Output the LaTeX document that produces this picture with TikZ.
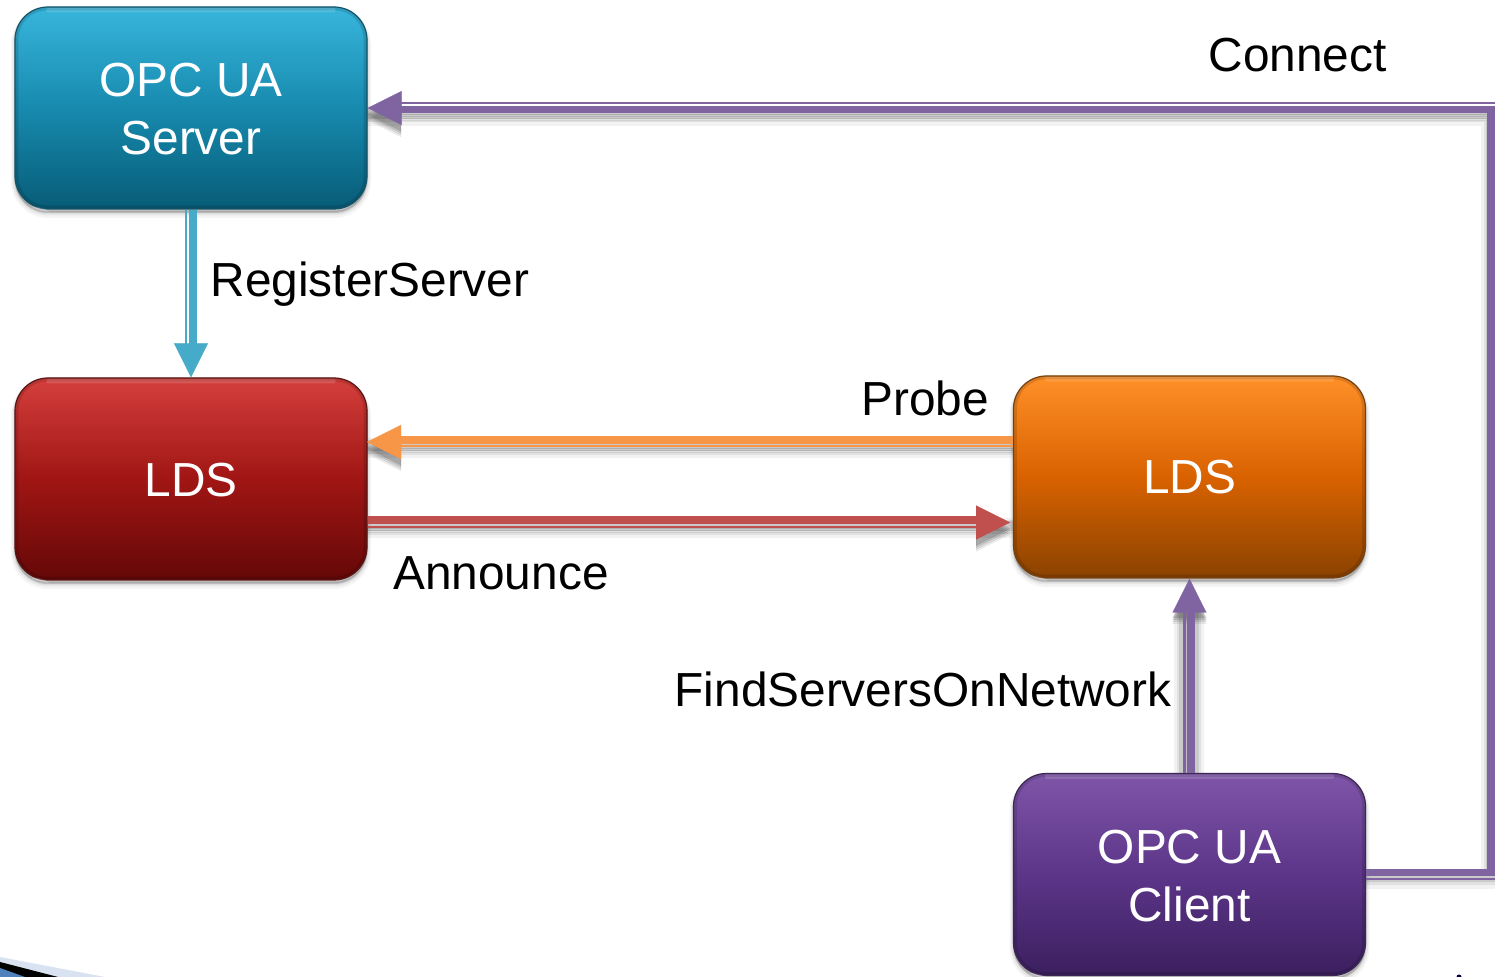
\documentclass[tikz,border=0pt]{standalone}
\usepackage{fontspec}
\setmainfont{Liberation Sans}
\usetikzlibrary{arrows.meta,calc}
\definecolor{tealc}{HTML}{46ABC8}
\definecolor{orangec}{HTML}{F79646}
\definecolor{redc}{HTML}{C0504D}
\definecolor{purplec}{HTML}{8064A2}
\definecolor{tealtop}{HTML}{38B5DC}\definecolor{tealmid}{HTML}{178AAE}\definecolor{tealbot}{HTML}{075C77}
\definecolor{redtop}{HTML}{D43F3C}\definecolor{redmid}{HTML}{A01614}\definecolor{redbot}{HTML}{640807}
\definecolor{orangetop}{HTML}{FF9028}\definecolor{orangemid}{HTML}{D96200}\definecolor{orangebot}{HTML}{8A4200}
\definecolor{purpletop}{HTML}{7F55A8}\definecolor{purplemid}{HTML}{5C3589}\definecolor{purplebot}{HTML}{3B1F5E}
\definecolor{bandlight}{HTML}{D9E2F0}\definecolor{bandblue}{HTML}{4F81BD}
\tikzset{
  x=0.5pt,y=-0.5pt,
  softshadow/.style={
    preaction={draw=black,line width=4pt,fill=black,opacity=.04,transform canvas={yshift=-2.5pt}},
    preaction={draw=black,line width=2.5pt,fill=black,opacity=.06,transform canvas={yshift=-2pt}},
    preaction={draw=black,line width=1pt,fill=black,opacity=.1,transform canvas={yshift=-1.5pt}}},
  box/.style={softshadow,rectangle,rounded corners=16.5pt,minimum width=176pt,minimum height=101pt,inner sep=0pt,
    text=white,align=center,font=\fontsize{23.9}{29}\selectfont,line width=.6pt},
  tealbox/.style={box,draw=tealbot!85!gray,top color=tealtop,bottom color=tealbot,middle color=tealmid},
  redbox/.style={box,draw=redbot!85!gray,top color=redtop,bottom color=redbot,middle color=redmid},
  orangebox/.style={box,draw=orangebot!85!gray,top color=orangetop,bottom color=orangebot,middle color=orangemid},
  purplebox/.style={box,draw=purplebot!85!gray,top color=purpletop,bottom color=purplebot,middle color=purplemid},
  lbl/.style={anchor=base,inner sep=0pt,text=black,font=\fontsize{23.9}{29}\selectfont},
  thickline/.style={line width=3.8pt,line cap=butt,line join=miter},
  thinline/.style={line width=1.2pt,line cap=butt,line join=miter},
  headline/.style={line width=.1pt,-{Triangle[length=17pt,width=17pt]}},
}
\newcommand{\dn}[2]{\raisebox{-#1}[\height][\depth]{#2}}
% soft shadow of a connector
\newcommand{\shadowof}[1]{%
  \foreach \w/\s/\o in {10pt/-3.5pt/.05,7pt/-3pt/.07,5pt/-2.5pt/.1}{%
    \draw[black,opacity=\o,line width=\w,line cap=butt,line join=miter,transform canvas={yshift=\s}] #1;}%
}
\newcommand{\headshadow}[2]{%
  \foreach \s/\o in {-6pt/.07,-5pt/.09,-4pt/.11,-3pt/.13}{%
    \draw[black,opacity=\o,headline,transform canvas={yshift=\s}] #1 -- #2;}%
}
% bevel of a box: darker rim, lighter top strip, two glints
\newcommand{\bevel}[1]{%
  \draw[black,opacity=.13,line width=2pt,rounded corners=15.5pt]
    ($(#1.north west)+(2,2)$) rectangle ($(#1.south east)+(-2,-2)$);
  \fill[white,opacity=.14,rounded corners=1pt] ($(#1.north west)+(32,1.5)$) rectangle ($(#1.north east)+(-32,6)$);
  \fill[white,opacity=.35,rotate around={-15:($(#1.north east)+(-24,6)$)}] ($(#1.north east)+(-24,6)$) ellipse (4.5pt and .7pt);
  \fill[white,opacity=.22,rotate around={-15:($(#1.south west)+(25,-7)$)}] ($(#1.south west)+(25,-7)$) ellipse (4.5pt and .7pt);
}
\begin{document}
\begin{tikzpicture}
\useasboundingbox (0,0) rectangle (1495,977);
\clip (0,0) rectangle (1495,977);
% corner remains of the slide ornament
\fill[bandlight] (0,957) -- (105,977) -- (0,977) -- cycle;
\fill[black] (0,962) -- (58,977) -- (0,977) -- cycle;
\fill[bandblue] (0,968) -- (25,977) -- (0,977) -- cycle;
\fill[blue!30!black] (1456.5,977) arc (180:0:1.25pt) -- cycle;

\coordinate (cornertop) at (1491,109.5);
\coordinate (cornerthin) at (1495,103);
\coordinate (servertip) at (367,108);
\coordinate (anntip) at (1010,522.5);
\coordinate (probetip) at (367,442);

% shadows of connectors, behind the boxes
\shadowof{(1366,872.5) -- (1491,872.5) -- (cornertop) -- (367,109.5)}
\shadowof{(1013,441) -- (367,441)}
\shadowof{(367,521.5) -- (1013,521.5)}
\shadowof{(1184,600) -- (1184,773)}
\shadowof{(1194,600) -- (1194,773)}
\headshadow{(1491,108)}{(servertip)}
\headshadow{(1013,442)}{(probetip)}
\headshadow{(367,522.5)}{(anntip)}
\headshadow{(1189.5,773)}{(1189.5,578)}

% nodes
\node[tealbox] (server) at (191,108) {\dn{.5pt}{OPC UA}\\\dn{.5pt}{Server}};
\node[redbox] (ldsa) at (191,479) {\dn{.5pt}{LDS}};
\node[orangebox] (ldsb) at (1189.5,477) {LDS};
\node[purplebox] (client) at (1189.5,874.5) {\dn{1pt}{OPC UA}\\\dn{1pt}{Client}};
\bevel{server}\bevel{ldsa}\bevel{ldsb}\bevel{client}

% RegisterServer
\draw[tealc,headline] (server.south) -- (ldsa.north);
\draw[tealc,thickline] ([xshift=1pt]server.south) -- ([xshift=1pt,yshift=16pt]ldsa.north);
\draw[tealc,thinline] ([xshift=-2.4pt]server.south) -- ([xshift=-2.4pt,yshift=16pt]ldsa.north);

% Probe
\draw[orangec,headline] (ldsb.west |- probetip) -- (probetip);
\draw[orangec,thickline] (ldsb.west |- 0,439.8) -- ([xshift=15pt]ldsa.east |- 0,439.8);
\draw[orangec,thinline] (ldsb.west |- 0,446) -- ([xshift=15pt]ldsa.east |- 0,446);

% Announce
\draw[redc,headline] (ldsa.east |- anntip) -- (anntip);
\draw[redc,thickline] (ldsa.east |- 0,520) -- (980,520);
\draw[redc,thinline] (ldsa.east |- 0,527) -- (980,527);

% FindServersOnNetwork
\draw[purplec,headline] (client.north) -- (ldsb.south);
\draw[purplec,thickline] ([xshift=.75pt]client.north) -- ([xshift=.75pt,yshift=-16pt]ldsb.south);
\draw[purplec,thinline] ([xshift=-2.55pt]client.north) -- ([xshift=-2.55pt,yshift=-16pt]ldsb.south);

% Connect
\draw[purplec,headline] (1491,108) -- (server.east |- servertip);
\draw[purplec,thickline] (client.east |- 0,872.7) -- (1491,872.7) -- (cornertop) -- ([xshift=15pt]server.east |- cornertop);
\draw[purplec,thinline] (client.east |- 0,879) -- (1495,879);
\draw[purplec,thinline] (cornerthin) -- ([xshift=15pt]server.east |- cornerthin);

% labels
\node[lbl] (lconnect) at (1297.5,72) {Connect};
\node[lbl] (lreg) at (370,297) {RegisterServer};
\node[lbl] (lprobe) at (925,416) {Probe};
\node[lbl] (lann) at (501,590) {Announce};
\node[lbl] (lfind) at (923,707) {FindServersOnNetwork};
\end{tikzpicture}
\end{document}
